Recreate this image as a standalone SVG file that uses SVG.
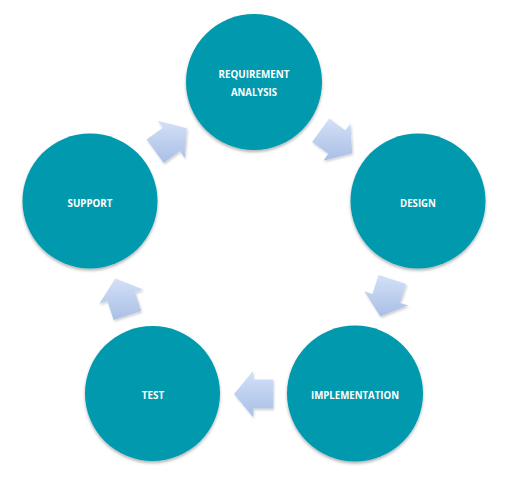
<svg xmlns="http://www.w3.org/2000/svg" width="509" height="480" viewBox="0 0 509 480">
<defs>
<style>
.node circle{fill:#0499ad;filter:url(#sh);}
.node text{fill:#ffffff;font-family:"Open Sans","Liberation Sans",sans-serif;font-weight:bold;font-size:11px;text-anchor:middle;}
.arr{fill:url(#ag);filter:url(#sh2);}
</style>
<linearGradient id="ag" x1="0" y1="0" x2="0" y2="1">
<stop offset="0" stop-color="#d3e0f8"/>
<stop offset="1" stop-color="#a9bfe5"/>
</linearGradient>
<filter id="sh" x="-20%" y="-20%" width="140%" height="140%">
<feDropShadow dx="0" dy="2" stdDeviation="1.5" flood-color="#000" flood-opacity="0.3"/>
</filter>
<filter id="sh2" x="-20%" y="-20%" width="140%" height="140%">
<feDropShadow dx="1" dy="1.5" stdDeviation="1" flood-color="#000" flood-opacity="0.2"/>
</filter>
</defs>
<rect width="509" height="480" fill="#ffffff"/>
<g id="connectors">
<polygon class="arr" points="329.2,118.6 345.3,130.4 350.3,123.5 352.2,153.3 323.3,160.7 328.3,153.8 312.1,142.1"/>
<polygon class="arr" points="406.2,283.9 400.0,302.9 408.1,305.6 380.3,316.5 364.3,291.3 372.4,294.0 378.6,274.9"/>
<polygon class="arr" points="273,408.5 253,408.5 253,417 234,394 253,371 253,379.5 273,379.5"/>
<polygon class="arr" points="113.6,320.1 107.4,301.0 99.3,303.7 115.3,278.5 143.1,289.4 135.0,292.1 141.2,311.1"/>
<polygon class="arr" points="146.6,139.4 162.8,127.7 157.8,120.8 186.7,128.2 184.8,158.0 179.8,151.1 163.7,162.9"/>
</g>
<g id="req" class="node">
<circle cx="254" cy="82" r="68"/>
<text x="254" y="78" textLength="71" lengthAdjust="spacingAndGlyphs">REQUIREMENT</text>
<text x="254" y="95.5" textLength="46" lengthAdjust="spacingAndGlyphs">ANALYSIS</text>
</g>
<g id="design" class="node">
<circle cx="418" cy="201" r="67.5"/>
<text x="418" y="206.5" textLength="36" lengthAdjust="spacingAndGlyphs">DESIGN</text>
</g>
<g id="impl" class="node">
<circle cx="355" cy="393.5" r="68"/>
<text x="355" y="399.3" textLength="88" lengthAdjust="spacingAndGlyphs">IMPLEMENTATION</text>
</g>
<g id="test" class="node">
<circle cx="152.5" cy="393.5" r="67.5"/>
<text x="153" y="399.3" textLength="22.5" lengthAdjust="spacingAndGlyphs">TEST</text>
</g>
<g id="support" class="node">
<circle cx="90" cy="201" r="67.5"/>
<text x="90" y="206.5" textLength="45" lengthAdjust="spacingAndGlyphs">SUPPORT</text>
</g>
</svg>
